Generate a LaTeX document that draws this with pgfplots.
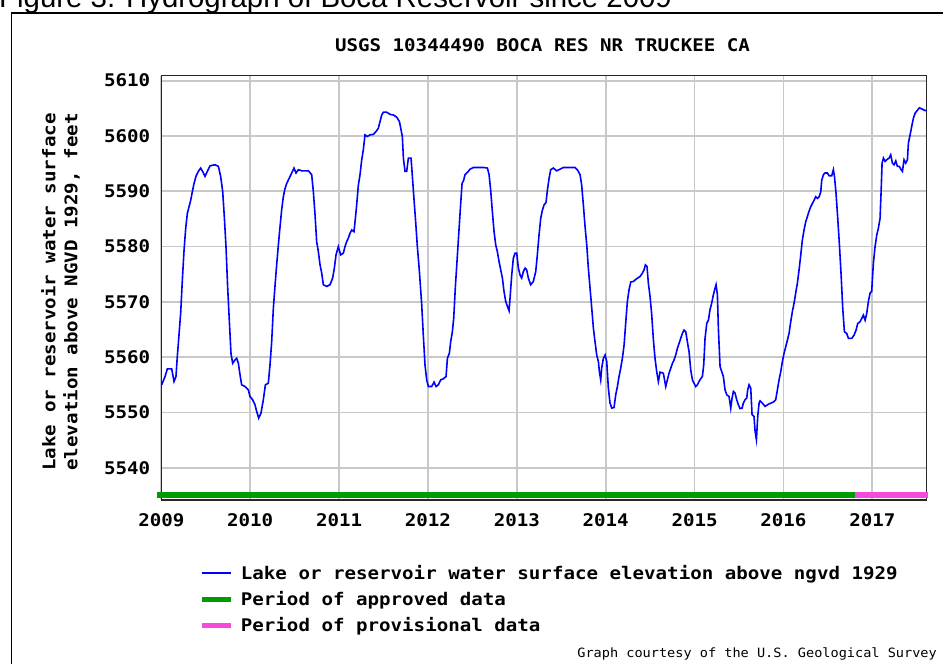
\documentclass[border=0pt]{standalone}
\usepackage{fontspec}
\setmainfont{Liberation Sans}
\newfontfamily\pix[FakeStretch=1.1]{DejaVu Sans Mono}
\newfontfamily\pixs[FakeStretch=1.06]{DejaVu Sans Mono}
\usepackage{pgfplots}
\pgfplotsset{compat=1.18}
\definecolor{usgsgreen}{RGB}{0,155,0}
\definecolor{usgspink}{RGB}{245,75,220}
\definecolor{usgsblue}{RGB}{0,0,255}
\definecolor{gridgray}{RGB}{200,200,200}
\newcommand{\pixfont}{\pix\bfseries\fontsize{17.4}{22}\selectfont}
\begin{document}
\begin{tikzpicture}[x=1pt,y=1pt]
\useasboundingbox (0,0) rectangle (943,664);
\clip (0,0) rectangle (943,664);
% caption (cut off at top, as in the reference)
\node[anchor=base west,inner sep=0pt,font=\fontsize{29.4}{32}\selectfont] at (-1,656.5) {Figure 3. Hydrograph of Boca Reservoir since 2009};
% outer frame
\draw[line width=1.3pt] (11.7,-30) -- (11.7,651) -- (980,651);
\begin{axis}[
  at={(161.3pt,164pt)}, anchor=south west,
  scale only axis, width=765.4pt, height=424.3pt,
  xmin=2009, xmax=2017.612, ymin=5534.18, ymax=5610.9,
  xtick={2009,2010,2011,2012,2013,2014,2015,2016,2017},
  xticklabels={2009,2010,2011,2012,2013,2014,2015,2016,2017},
  ytick={5540,5550,5560,5570,5580,5590,5600,5610},
  yticklabels={5540,5550,5560,5570,5580,5590,5600,5610},
  major tick length=0pt,
  grid=major,
  major grid style={draw=gridgray, line width=1.7pt},
  axis line style={line width=1.5pt, black!85},
  tick label style={font=\pixfont},
  xticklabel style={yshift=-10.5pt},
  yticklabel style={xshift=-7.5pt},
  clip=false,
]
\addplot[usgsgreen, line width=6.5pt] coordinates {(2008.955,5535.05) (2016.81,5535.05)};
\addplot[usgspink, line width=6.5pt] coordinates {(2016.81,5535.05) (2017.63,5535.05)};
\addplot[usgsblue, line width=1.6pt] coordinates {
(2009.004,5555.0) (2009.042,5556.5) (2009.068,5557.9) (2009.117,5557.9) (2009.143,5555.6)
(2009.165,5556.5) (2009.180,5560.1) (2009.199,5564.0) (2009.218,5568.0) (2009.237,5574.0)
(2009.255,5579.1) (2009.274,5583.2) (2009.293,5586.0) (2009.312,5587.2) (2009.330,5588.3)
(2009.349,5589.9) (2009.368,5591.4) (2009.390,5592.7) (2009.417,5593.6) (2009.443,5594.2)
(2009.465,5593.6) (2009.492,5592.7) (2009.518,5593.6) (2009.548,5594.6) (2009.604,5594.8)
(2009.642,5594.5) (2009.668,5592.7) (2009.691,5589.9) (2009.709,5585.4) (2009.728,5580.0)
(2009.747,5572.5) (2009.766,5566.4) (2009.784,5560.7) (2009.803,5558.9) (2009.829,5559.5)
(2009.848,5559.8) (2009.867,5558.9) (2009.886,5556.8) (2009.904,5555.0) (2009.942,5554.7)
(2009.979,5554.1) (2009.998,5552.9) (2010.028,5552.3) (2010.054,5551.4) (2010.073,5550.2)
(2010.096,5549.0) (2010.122,5549.9) (2010.148,5552.3) (2010.171,5555.0) (2010.204,5555.3)
(2010.223,5558.6) (2010.242,5562.8) (2010.261,5568.9) (2010.279,5572.8) (2010.298,5576.7)
(2010.317,5580.3) (2010.336,5583.6) (2010.354,5586.6) (2010.373,5589.0) (2010.392,5590.5)
(2010.411,5591.4) (2010.437,5592.3) (2010.467,5593.3) (2010.493,5594.2) (2010.516,5593.3)
(2010.542,5593.9) (2010.580,5593.7) (2010.655,5593.7) (2010.692,5593.0) (2010.711,5589.9)
(2010.730,5585.7) (2010.748,5580.9) (2010.767,5579.1) (2010.786,5576.7) (2010.805,5575.2)
(2010.823,5573.1) (2010.861,5572.8) (2010.898,5573.1) (2010.928,5574.3) (2010.947,5576.1)
(2010.966,5578.5) (2010.992,5580.0) (2011.018,5578.5) (2011.048,5578.8) (2011.067,5580.0)
(2011.086,5580.9) (2011.104,5581.5) (2011.123,5582.4) (2011.142,5583.0) (2011.168,5582.7)
(2011.180,5584.5) (2011.198,5587.5) (2011.217,5591.1) (2011.236,5593.0) (2011.255,5595.7)
(2011.273,5597.5) (2011.292,5600.2) (2011.318,5599.9) (2011.348,5600.2) (2011.386,5600.3)
(2011.416,5600.8) (2011.442,5601.4) (2011.461,5602.6) (2011.480,5603.8) (2011.499,5604.3)
(2011.536,5604.3) (2011.574,5603.9) (2011.611,5603.8) (2011.649,5603.4) (2011.679,5602.6)
(2011.694,5601.4) (2011.712,5599.9) (2011.724,5596.0) (2011.742,5593.6) (2011.761,5593.6)
(2011.780,5596.0) (2011.810,5596.0) (2011.825,5592.7) (2011.844,5588.4) (2011.862,5584.5)
(2011.881,5580.0) (2011.904,5575.5) (2011.930,5569.5) (2011.949,5563.7) (2011.967,5558.6)
(2011.986,5555.9) (2012.005,5554.7) (2012.042,5554.7) (2012.069,5555.5) (2012.091,5554.7)
(2012.117,5555.0) (2012.144,5555.9) (2012.174,5556.1) (2012.204,5556.5) (2012.219,5559.8)
(2012.241,5560.7) (2012.256,5562.8) (2012.275,5564.6) (2012.290,5567.0) (2012.309,5572.8)
(2012.327,5577.3) (2012.346,5582.1) (2012.365,5586.9) (2012.384,5591.4) (2012.402,5592.0)
(2012.417,5593.0) (2012.444,5593.4) (2012.474,5594.0) (2012.511,5594.3) (2012.624,5594.3)
(2012.669,5594.2) (2012.688,5593.0) (2012.706,5590.2) (2012.725,5586.3) (2012.744,5582.7)
(2012.763,5580.3) (2012.781,5579.1) (2012.800,5577.3) (2012.819,5575.8) (2012.838,5574.3)
(2012.856,5571.9) (2012.875,5570.1) (2012.894,5569.2) (2012.913,5568.4) (2012.924,5570.7)
(2012.943,5574.9) (2012.961,5577.9) (2012.980,5578.8) (2012.999,5578.8) (2013.018,5576.1)
(2013.036,5574.9) (2013.055,5574.3) (2013.074,5575.5) (2013.093,5576.1) (2013.111,5575.8)
(2013.130,5574.3) (2013.156,5573.1) (2013.186,5573.7) (2013.213,5575.5) (2013.231,5578.5)
(2013.250,5582.1) (2013.269,5585.1) (2013.288,5586.6) (2013.306,5587.5) (2013.329,5588.0)
(2013.344,5590.2) (2013.363,5592.3) (2013.381,5593.9) (2013.411,5594.2) (2013.449,5593.7)
(2013.486,5594.0) (2013.524,5594.3) (2013.655,5594.3) (2013.681,5593.9) (2013.712,5593.0)
(2013.730,5591.1) (2013.749,5587.5) (2013.768,5583.6) (2013.787,5580.3) (2013.805,5576.1)
(2013.824,5572.5) (2013.843,5568.9) (2013.862,5565.2) (2013.880,5562.8) (2013.899,5560.4)
(2013.918,5559.2) (2013.929,5557.4) (2013.944,5555.9) (2013.955,5558.0) (2013.974,5559.8)
(2013.993,5560.4) (2014.012,5559.2) (2014.030,5554.4) (2014.049,5551.7) (2014.068,5550.8)
(2014.094,5550.9) (2014.113,5553.2) (2014.132,5554.7) (2014.150,5556.5) (2014.169,5558.0)
(2014.188,5559.8) (2014.207,5562.2) (2014.225,5566.1) (2014.244,5570.1) (2014.263,5572.2)
(2014.282,5573.6) (2014.312,5573.7) (2014.349,5574.2) (2014.387,5574.6) (2014.413,5575.2)
(2014.432,5575.8) (2014.447,5576.7) (2014.465,5576.4) (2014.480,5573.4) (2014.499,5571.0)
(2014.518,5567.7) (2014.537,5563.1) (2014.555,5559.8) (2014.574,5557.4) (2014.593,5555.6)
(2014.612,5557.3) (2014.649,5557.1) (2014.676,5554.7) (2014.694,5555.9) (2014.713,5557.1)
(2014.732,5558.0) (2014.751,5558.9) (2014.769,5559.5) (2014.788,5560.4) (2014.807,5561.6)
(2014.826,5562.5) (2014.844,5563.4) (2014.863,5564.3) (2014.882,5564.9) (2014.901,5564.6)
(2014.919,5562.8) (2014.938,5561.0) (2014.957,5557.7) (2014.976,5555.9) (2014.994,5555.3)
(2015.013,5554.7) (2015.032,5555.0) (2015.050,5555.6) (2015.069,5556.1) (2015.088,5556.5)
(2015.103,5558.6) (2015.118,5563.4) (2015.137,5566.1) (2015.156,5566.7) (2015.174,5568.6)
(2015.193,5569.8) (2015.212,5571.3) (2015.231,5572.5) (2015.242,5573.1) (2015.257,5571.3)
(2015.268,5565.2) (2015.287,5558.3) (2015.306,5557.4) (2015.324,5556.5) (2015.343,5554.1)
(2015.362,5553.2) (2015.388,5552.9) (2015.407,5550.8) (2015.422,5552.6) (2015.437,5553.8)
(2015.456,5553.5) (2015.474,5552.3) (2015.493,5551.4) (2015.512,5550.7) (2015.535,5550.8)
(2015.549,5551.7) (2015.568,5552.3) (2015.587,5552.6) (2015.598,5554.1) (2015.613,5555.0)
(2015.632,5554.4) (2015.647,5549.6) (2015.669,5549.3) (2015.681,5546.6) (2015.696,5545.1)
(2015.711,5549.3) (2015.726,5551.7) (2015.737,5552.1) (2015.763,5551.7) (2015.793,5551.1)
(2015.831,5551.5) (2015.887,5551.9) (2015.913,5552.3) (2015.932,5554.1) (2015.951,5555.9)
(2015.970,5557.4) (2015.988,5559.2) (2016.007,5560.7) (2016.026,5561.9) (2016.045,5563.1)
(2016.063,5564.3) (2016.082,5566.4) (2016.101,5568.3) (2016.120,5569.8) (2016.138,5571.6)
(2016.157,5573.4) (2016.176,5575.8) (2016.195,5578.5) (2016.213,5581.2) (2016.232,5583.0)
(2016.251,5584.5) (2016.269,5585.4) (2016.288,5586.4) (2016.307,5587.2) (2016.326,5587.8)
(2016.345,5588.4) (2016.363,5589.0) (2016.382,5588.7) (2016.401,5589.0) (2016.420,5589.9)
(2016.431,5592.0) (2016.450,5593.0) (2016.468,5593.3) (2016.495,5593.3) (2016.514,5592.8)
(2016.543,5592.8) (2016.562,5593.9) (2016.574,5592.7) (2016.592,5589.6) (2016.611,5585.1)
(2016.630,5580.3) (2016.649,5574.9) (2016.667,5568.9) (2016.686,5564.6) (2016.712,5564.3)
(2016.731,5563.4) (2016.768,5563.4) (2016.795,5564.0) (2016.817,5564.9) (2016.836,5566.1)
(2016.862,5566.4) (2016.881,5567.0) (2016.900,5567.6) (2016.919,5566.7) (2016.937,5567.9)
(2016.956,5570.1) (2016.975,5571.6) (2016.993,5571.9) (2017.012,5577.0) (2017.031,5580.0)
(2017.050,5582.1) (2017.068,5583.3) (2017.087,5585.1) (2017.099,5589.9) (2017.110,5595.1)
(2017.125,5596.0) (2017.144,5595.4) (2017.162,5595.7) (2017.189,5596.0) (2017.207,5596.6)
(2017.226,5595.1) (2017.245,5594.8) (2017.264,5595.5) (2017.282,5594.5) (2017.305,5594.5)
(2017.320,5594.0) (2017.339,5593.6) (2017.357,5595.7) (2017.376,5595.1) (2017.395,5595.7)
(2017.406,5598.7) (2017.425,5600.2) (2017.443,5601.7) (2017.462,5603.2) (2017.481,5604.1)
(2017.500,5604.5) (2017.530,5605.1) (2017.556,5604.9) (2017.594,5604.6) (2017.612,5604.6)
};
\end{axis}
% title
\node[font=\pixfont, inner sep=0pt] at (542.5,619) {USGS 10344490 BOCA RES NR TRUCKEE CA};
% y label
\node[font=\pixfont, rotate=90, align=center, inner sep=0pt] at (60.5,372) {Lake or reservoir water surface\\[0pt]elevation above NGVD 1929, feet};
% legend
\draw[usgsblue, line width=1.8pt] (201.7,90.7) -- (231,90.7);
\node[font=\pixfont, anchor=west, inner sep=0pt] at (240.7,90) {Lake or reservoir water surface elevation above ngvd 1929};
\draw[usgsgreen, line width=5pt] (201.7,64) -- (231,64);
\node[font=\pixfont, anchor=west, inner sep=0pt] at (240.7,64) {Period of approved data};
\draw[usgspink, line width=5pt] (201.7,38) -- (231,38);
\node[font=\pixfont, anchor=west, inner sep=0pt] at (240.7,38) {Period of provisional data};
% courtesy
\node[font=\pixs\fontsize{12.8}{14}\selectfont, anchor=east, inner sep=0pt] at (937,10) {Graph courtesy of the U.S. Geological Survey};
\end{tikzpicture}
\end{document}
